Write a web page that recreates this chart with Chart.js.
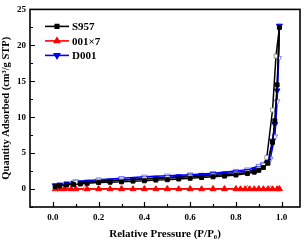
<!DOCTYPE html>
<html lang="en">
<head>
<meta charset="UTF-8">
<title>Isotherms</title>
<script src="https://cdn.jsdelivr.net/npm/chart.js@4/dist/chart.umd.min.js"></script>
<style>
    html, body { margin: 0; padding: 0; background: #fff; }
    .wrap { width: 307px; height: 243px; }
</style>
</head>
<body>
<div class="wrap"><canvas id="iso" width="307" height="243"></canvas></div>
<script>
// S957 adsorption / desorption
var s957AdsP = [0.01,0.03,0.06,0.09,0.12,0.15,0.2,0.25,0.3,0.35,0.4,0.45,0.5,0.55,0.6,0.65,0.7,0.75,0.8,0.85,0.88,0.9,0.92,0.94,0.96,0.97,0.98,0.99];
var s957AdsQ = [0.35,0.45,0.55,0.65,0.7,0.8,0.9,0.95,1.0,1.1,1.15,1.25,1.3,1.4,1.5,1.6,1.7,1.8,1.95,2.15,2.35,2.6,3.0,3.6,6.5,9.5,14.5,22.5];
var s957DesP = [0.99,0.975,0.96,0.935,0.92,0.9,0.85,0.8,0.7,0.6,0.5,0.4,0.3,0.2,0.1];
var s957DesQ = [22.5,18.5,11.0,4.4,3.3,2.8,2.3,2.1,1.9,1.7,1.55,1.4,1.25,1.1,0.9];

// 001x7
var r001AdsP = [0.01,0.03,0.05,0.08,0.1,0.15,0.2,0.25,0.3,0.35,0.4,0.45,0.5,0.55,0.6,0.65,0.7,0.75,0.8,0.82,0.84,0.86,0.88,0.9,0.92,0.94,0.96,0.98,0.99];
var r001AdsQ = [0.0,0.0,0.0,0.0,0.0,0.0,0.0,0.0,0.0,0.0,0.0,0.0,0.0,0.0,0.0,0.0,0.0,0.0,0.0,0.0,0.0,0.0,0.0,0.0,0.0,0.0,0.0,0.0,0.0];
var r001DesP = [0.99,0.95,0.9,0.85,0.8,0.75,0.7,0.6,0.5,0.4,0.3,0.2,0.14,0.1,0.05];
var r001DesQ = [0.05,0.05,0.05,0.05,0.05,0.05,0.05,0.05,0.05,0.05,0.05,0.05,0.05,0.05,0.05];

// D001
var d001AdsP = [0.01,0.03,0.06,0.09,0.12,0.15,0.2,0.25,0.3,0.35,0.4,0.45,0.5,0.55,0.6,0.65,0.7,0.75,0.8,0.85,0.88,0.9,0.92,0.94,0.96,0.97,0.98,0.99];
var d001AdsQ = [0.5,0.6,0.75,0.85,0.9,1.0,1.05,1.15,1.25,1.35,1.45,1.55,1.65,1.75,1.85,1.95,2.05,2.15,2.3,2.5,2.7,2.9,3.3,4.0,6.7,9.0,13.7,22.7];
var d001DesP = [0.99,0.987,0.98,0.97,0.95,0.92,0.9,0.85,0.8,0.7,0.6,0.5,0.4,0.3,0.2,0.1];
var d001DesQ = [22.7,18.2,12.2,7.3,4.2,3.5,3.2,2.7,2.5,2.2,2.0,1.85,1.7,1.5,1.3,1.05];

var xTicks = [0.0, 0.2, 0.4, 0.6, 0.8, 1.0];
var yTicks = [0, 5, 10, 15, 20, 25];
var xMinor = [0.1, 0.3, 0.5, 0.7, 0.9];
var yMinor = [-2.5, 2.5, 7.5, 12.5, 17.5, 22.5];

var seriesNames = ['S957', '001\u00d77', 'D001'];

function pts(xs, ys) {
    return xs.map(function (x, i) { return { x: x, y: ys[i] }; });
}

var SERIF = '"Liberation Serif", "DejaVu Serif", serif';

function ds(label, xs, ys, color, openColor, style, rot, open, legend) {
    return {
        label: label,
        data: pts(xs, ys),
        borderColor: color,
        backgroundColor: open ? '#ffffff' : color,
        pointBorderColor: open ? openColor : color,
        pointBackgroundColor: open ? '#ffffff' : color,
        pointStyle: style,
        rotation: rot,
        pointRadius: style === 'rect' ? 2.8 : 3.3,
        pointBorderWidth: 1,
        borderWidth: 1.5,
        showLine: true,
        fill: false,
        tension: 0,
        inLegend: legend
    };
}

// frame + inward ticks + legend
var framePlugin = {
    id: 'frame',
    afterDraw: function (chart) {
        var ctx = chart.ctx, a = chart.chartArea;
        var xs = chart.scales.x, ys = chart.scales.y;
        ctx.save();
        ctx.strokeStyle = '#000';
        ctx.lineWidth = 1.6;
        ctx.strokeRect(a.left, a.top, a.right - a.left, a.bottom - a.top);
        ctx.lineWidth = 1.2;
        ctx.beginPath();
        xTicks.forEach(function (v) {
            var px = Math.round(xs.getPixelForValue(v)) + 0.5;
            ctx.moveTo(px, a.bottom); ctx.lineTo(px, a.bottom - 5);
        });
        xMinor.forEach(function (v) {
            var px = Math.round(xs.getPixelForValue(v)) + 0.5;
            ctx.moveTo(px, a.bottom); ctx.lineTo(px, a.bottom - 3);
        });
        yTicks.forEach(function (v) {
            var py = Math.round(ys.getPixelForValue(v)) + 0.5;
            ctx.moveTo(a.left, py); ctx.lineTo(a.left + 5, py);
        });
        yMinor.forEach(function (v) {
            var py = Math.round(ys.getPixelForValue(v)) + 0.5;
            ctx.moveTo(a.left, py); ctx.lineTo(a.left + 3, py);
        });
        ctx.stroke();

        var lx = a.left + 15, ly = a.top + 17;
        chart.data.datasets.forEach(function (d) {
            if (!d.inLegend) return;
            ctx.strokeStyle = d.borderColor;
            ctx.lineWidth = 1.6;
            ctx.beginPath();
            ctx.moveTo(lx, ly); ctx.lineTo(lx + 24, ly);
            ctx.stroke();
            Chart.helpers.drawPoint(ctx, {
                pointStyle: d.pointStyle, rotation: d.rotation,
                radius: d.pointRadius - 0.3, borderWidth: 1
            }, lx + 12, ly);
            ctx.fillStyle = d.borderColor;
            ctx.fill();
            ctx.fillStyle = '#000';
            ctx.font = 'bold 11px ' + SERIF;
            ctx.textBaseline = 'middle';
            ctx.textAlign = 'left';
            ctx.fillText(d.label, lx + 27, ly + 1);
            ly += 14.5;
        });
        ctx.restore();
    }
};

var chart = new Chart(document.getElementById('iso').getContext('2d'), {
    type: 'scatter',
    data: {
        datasets: [
            ds(seriesNames[0], s957AdsP, s957AdsQ, '#000000', '#9a9a9a', 'rect', 0, false, true),
            ds(seriesNames[0] + ' des', s957DesP, s957DesQ, '#000000', '#9a9a9a', 'rect', 0, true, false),
            ds(seriesNames[1], r001AdsP, r001AdsQ, '#ff0000', '#ff7070', 'triangle', 0, false, true),
            ds(seriesNames[1] + ' des', r001DesP, r001DesQ, '#ff0000', '#ff7070', 'triangle', 0, true, false),
            ds(seriesNames[2], d001AdsP, d001AdsQ, '#0000ff', '#7a7aff', 'triangle', 180, false, true),
            ds(seriesNames[2] + ' des', d001DesP, d001DesQ, '#0000ff', '#7a7aff', 'triangle', 180, true, false)
        ]
    },
    options: {
        responsive: false,
        animation: false,
        layout: { padding: { top: 5, right: 7, left: 0, bottom: 0 } },
        plugins: {
            legend: { display: false },
            tooltip: { enabled: false }
        },
        scales: {
            x: {
                type: 'linear',
                min: -0.1,
                max: 1.08,
                afterBuildTicks: function (s) { s.ticks = xTicks.map(function (v) { return { value: v }; }); },
                afterFit: function (s) { s.height = 36; },
                grid: { display: false, drawTicks: false },
                border: { display: false },
                ticks: {
                    color: '#000',
                    padding: 5,
                    maxRotation: 0,
                    font: { family: SERIF, weight: 'bold', size: 9 },
                    callback: function (v) { return v.toFixed(1); }
                },
                title: {
                    display: true,
                    text: 'Relative Pressure (P/P\u2080)',
                    color: '#000',
                    padding: { top: 0, bottom: 2 },
                    font: { family: SERIF, weight: 'bold', size: 11 }
                }
            },
            y: {
                type: 'linear',
                min: -2.5,
                max: 25,
                afterBuildTicks: function (s) { s.ticks = yTicks.map(function (v) { return { value: v }; }); },
                afterFit: function (s) { s.width = 30; },
                grid: { display: false, drawTicks: false },
                border: { display: false },
                ticks: {
                    color: '#000',
                    padding: 4,
                    font: { family: SERIF, weight: 'bold', size: 9 }
                },
                title: {
                    display: true,
                    text: 'Quantity Adsorbed (cm\u00b3/g STP)',
                    color: '#000',
                    padding: { top: 0, bottom: 1 },
                    font: { family: SERIF, weight: 'bold', size: 10.5 }
                }
            }
        }
    },
    plugins: [framePlugin]
});
</script>
</body>
</html>
